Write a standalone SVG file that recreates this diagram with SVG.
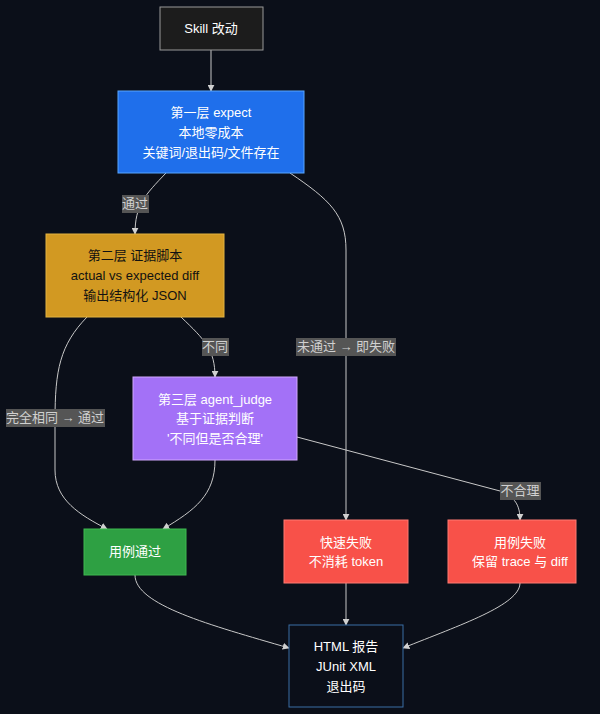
<svg xmlns="http://www.w3.org/2000/svg" width="600" height="714" viewBox="0 0 600 714">
<style>
text{font-family:"Liberation Sans","Noto Sans CJK SC",sans-serif;font-size:13px;text-anchor:middle}
.e{fill:none;stroke:#c8c8c8;stroke-width:1}
.lb{fill:#555}
.lt{fill:#d0d0d0}
.w{fill:#fff}
</style>
<defs><marker id="a" viewBox="0 0 10 10" refX="9" refY="5" markerWidth="7" markerHeight="7" orient="auto"><path d="M0,0L10,5L0,10z" fill="#d0d0d0"/></marker></defs>
<rect width="600" height="714" fill="#0b0f19"/>
<g id="edges">
<path class="e" marker-end="url(#a)" d="M211,50V91"/>
<path class="e" marker-end="url(#a)" d="M166,173C145,195 135,205 135,234"/>
<path class="e" marker-end="url(#a)" d="M290,173C330,200 346,215 346,250V520"/>
<path class="e" marker-end="url(#a)" d="M181,317C205,340 215,350 215,377"/>
<path class="e" marker-end="url(#a)" d="M87,317C60,345 55,370 55,420V470C55,500 80,515 107,529"/>
<path class="e" marker-end="url(#a)" d="M215,460C215,495 195,510 163,529"/>
<path class="e" marker-end="url(#a)" d="M297,437L500,491C515,497 520,505 520,520"/>
<path class="e" marker-end="url(#a)" d="M135,575C135,605 210,625 289,648"/>
<path class="e" marker-end="url(#a)" d="M346,583V625"/>
<path class="e" marker-end="url(#a)" d="M520,583C520,605 460,625 403,648"/>
<rect class="lb" x="122" y="195" width="27" height="18"/><text class="lt" x="135" y="208">通过</text>
<rect class="lb" x="296" y="338" width="100" height="18"/><text class="lt" x="346" y="351">未通过 → 即失败</text>
<rect class="lb" x="202" y="338" width="27" height="18"/><text class="lt" x="215" y="351">不同</text>
<rect class="lb" x="6" y="409" width="99" height="18"/><text class="lt" x="55" y="422">完全相同 → 通过</text>
<rect class="lb" x="500" y="482" width="41" height="18"/><text class="lt" x="520" y="495">不合理</text>
</g>
<g id="n0"><rect x="160" y="7" width="103" height="43" fill="#1c1c1c" stroke="#999"/><text class="w" x="211" y="33">Skill 改动</text></g>
<g id="n1"><rect x="118" y="91" width="186" height="82" fill="#1f6feb" stroke="#58a6ff"/><text class="w" x="211" y="117">第一层 expect</text><text class="w" x="211" y="137">本地零成本</text><text class="w" x="211" y="157">关键词/退出码/文件存在</text></g>
<g id="n2"><rect x="46" y="234" width="178" height="83" fill="#d29922" stroke="#e3b341"/><text x="135" y="260" fill="#111">第二层 证据脚本</text><text x="135" y="280" fill="#111">actual vs expected diff</text><text x="135" y="300" fill="#111">输出结构化 JSON</text></g>
<g id="n3"><rect x="133" y="377" width="164" height="83" fill="#a371f7" stroke="#d2a8ff"/><text class="w" x="215" y="404">第三层 agent_judge</text><text class="w" x="215" y="423">基于证据判断</text><text class="w" x="215" y="443">'不同但是否合理'</text></g>
<g id="n4"><rect x="84" y="529" width="102" height="46" fill="#2ea043" stroke="#3fb950"/><text class="w" x="135" y="556">用例通过</text></g>
<g id="n5"><rect x="284" y="520" width="124" height="63" fill="#f85149" stroke="#ff7b72"/><text class="w" x="346" y="547">快速失败</text><text class="w" x="346" y="566">不消耗 token</text></g>
<g id="n6"><rect x="448" y="520" width="128" height="63" fill="#f85149" stroke="#ff7b72"/><text class="w" x="520" y="547">用例失败</text><text class="w" x="520" y="566">保留 trace 与 diff</text></g>
<g id="n7"><rect x="289" y="625" width="114" height="82" fill="#0b0f19" stroke="#3b6ea5"/><text class="w" x="346" y="651">HTML 报告</text><text class="w" x="346" y="671">JUnit XML</text><text class="w" x="346" y="691">退出码</text></g>
</svg>
